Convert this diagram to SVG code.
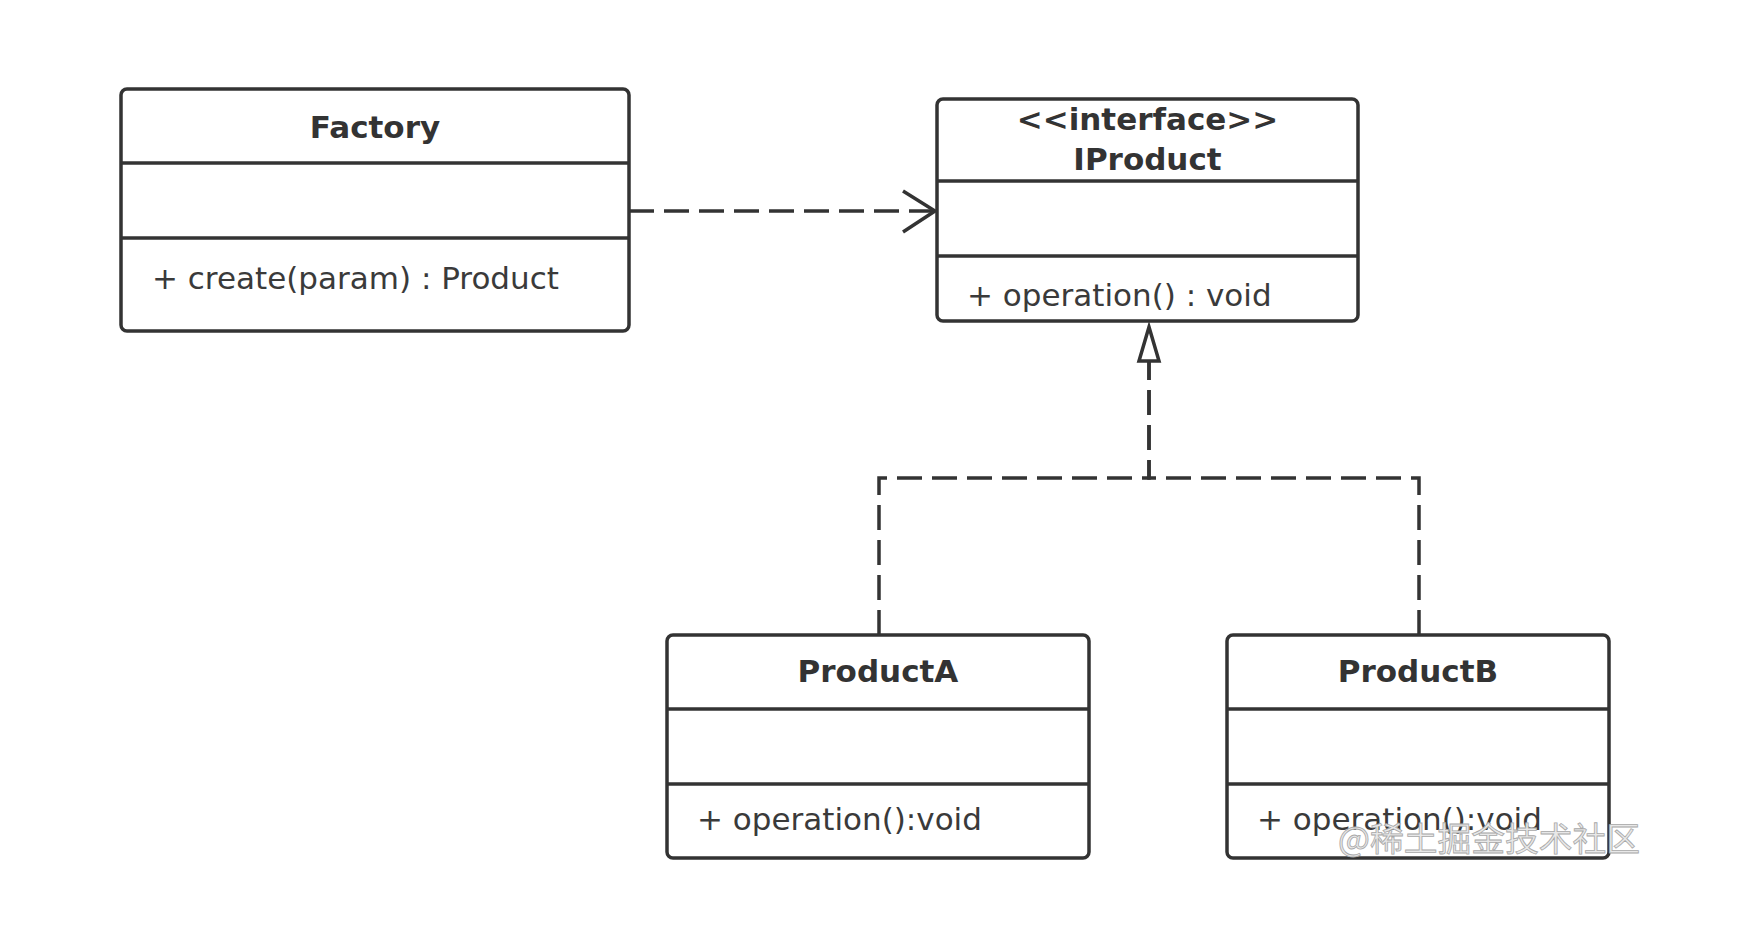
<svg xmlns="http://www.w3.org/2000/svg" width="1743" height="933" viewBox="0 0 1743 933">
<style>
.box{fill:#fff;stroke:#333;stroke-width:3.5}
.div{stroke:#333;stroke-width:3.5;fill:none}
.title{font-family:"DejaVu Sans","Liberation Sans",sans-serif;font-weight:bold;font-size:31px;fill:#333;text-anchor:middle}
.member{font-family:"DejaVu Sans","Liberation Sans",sans-serif;font-size:31px;fill:#3a3a3a}
.dash{fill:none;stroke:#333;stroke-width:3.5;stroke-dasharray:25 10}
.solid{fill:none;stroke:#333;stroke-width:3.5;stroke-linejoin:miter}
.wm{font-family:"Noto Sans CJK SC","DejaVu Sans",sans-serif;font-size:33px;fill:#e8e8e8;stroke:#a8a8a8;stroke-width:0.8}
</style>
<rect width="1743" height="933" fill="#fff"/>
<g id="connectors">
<path class="dash" d="M629,211 H933"/>
<path class="solid" d="M903,191 L935,211 L903,232"/>
<path class="dash" d="M879,635 V478 H1149 V362"/>
<path class="dash" d="M1419,635 V478 H1149 V362"/>
<polygon class="solid" points="1149,327 1139,361 1159,361" style="fill:#fff"/>
</g>
<g id="Factory">
<rect class="box" x="121" y="89" width="508" height="242" rx="6"/>
<line class="div" x1="121" y1="163" x2="629" y2="163"/>
<line class="div" x1="121" y1="238" x2="629" y2="238"/>
<text class="title" x="375" y="138">Factory</text>
<text class="member" x="152" y="289">+ create(param) : Product</text>
</g>
<g id="IProduct">
<rect class="box" x="937" y="99" width="421" height="222" rx="6"/>
<line class="div" x1="937" y1="181" x2="1358" y2="181"/>
<line class="div" x1="937" y1="256" x2="1358" y2="256"/>
<text class="title" x="1147.5" y="130">&lt;&lt;interface&gt;&gt;</text>
<text class="title" x="1147.5" y="170">IProduct</text>
<text class="member" x="967" y="306">+ operation() : void</text>
</g>
<g id="ProductA">
<rect class="box" x="667" y="635" width="422" height="223" rx="6"/>
<line class="div" x1="667" y1="709" x2="1089" y2="709"/>
<line class="div" x1="667" y1="784" x2="1089" y2="784"/>
<text class="title" x="878" y="682">ProductA</text>
<text class="member" x="697" y="830">+ operation():void</text>
</g>
<g id="ProductB">
<rect class="box" x="1227" y="635" width="382" height="223" rx="6"/>
<line class="div" x1="1227" y1="709" x2="1609" y2="709"/>
<line class="div" x1="1227" y1="784" x2="1609" y2="784"/>
<text class="title" x="1418" y="682">ProductB</text>
<text class="member" x="1257" y="830">+ operation():void</text>
</g>
<text class="wm" x="1338" y="851" textLength="302" lengthAdjust="spacingAndGlyphs">@稀土掘金技术社区</text>
</svg>
